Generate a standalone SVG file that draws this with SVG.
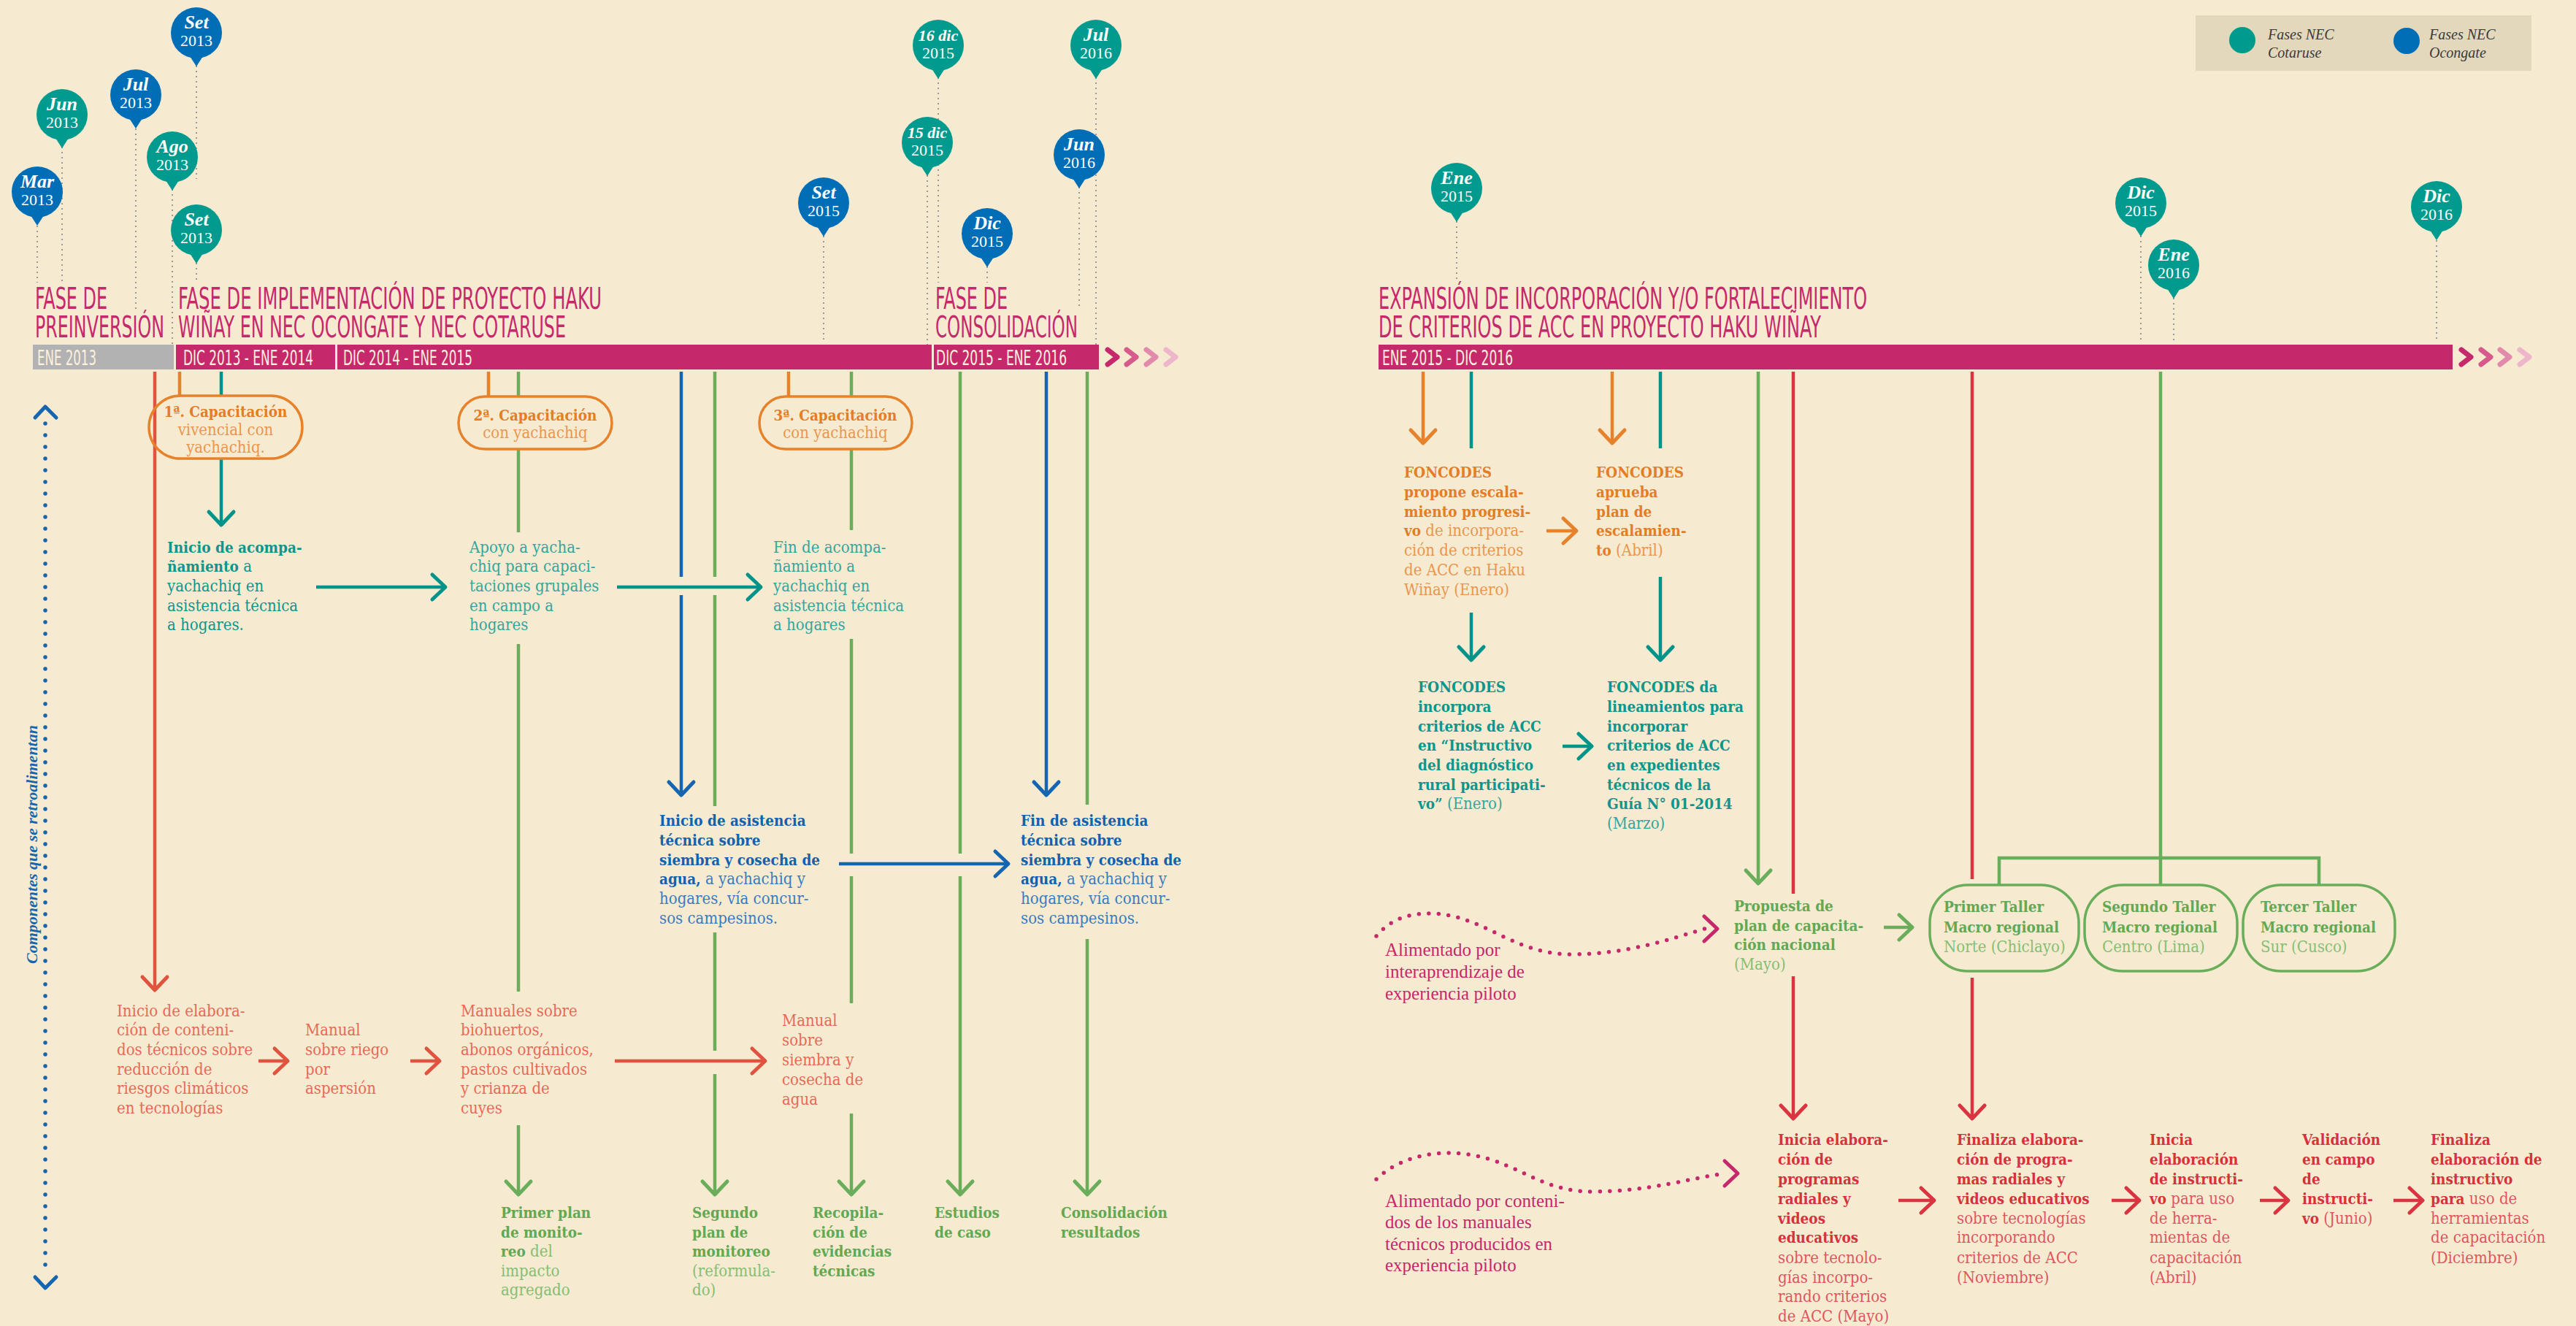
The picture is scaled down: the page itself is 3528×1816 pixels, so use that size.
<svg xmlns="http://www.w3.org/2000/svg" width="3528" height="1816" viewBox="0 0 3528 1816">
<style>
.bg{fill:#F6EBD1}
.ttl{font-family:'Liberation Sans Narrow','DejaVu Sans Condensed','Liberation Sans',sans-serif;font-size:40px;fill:#C5296C}
.bt{font-family:'Liberation Sans Narrow','DejaVu Sans Condensed','Liberation Sans',sans-serif;font-size:28px;fill:#FBF1DE}
.s{font-family:'DejaVu Serif Condensed','DejaVu Serif',serif;font-size:22px;font-stretch:condensed}
.k{font-weight:700;font-size:20.5px}
.mg{font-family:'Liberation Serif',serif;font-size:25px;fill:#C5296C}
.pm{font-family:'Liberation Serif',serif;font-weight:700;font-style:italic;font-size:26px;fill:#fff;text-anchor:middle}
.py{font-family:'Liberation Serif',serif;font-size:22px;fill:#fff;text-anchor:middle}
.lg{font-family:'Liberation Serif',serif;font-style:italic;font-size:20px;fill:#3a3a3a}
.pinT{fill:#009A8E}.pinB{fill:#006DB7}
.dot{stroke:#9A9A9A;stroke-width:2;stroke-dasharray:2 5;fill:none}
.ln{fill:none;stroke-width:4.5}
.ah{fill:none;stroke-width:5;stroke-linecap:round;stroke-linejoin:round}
.cT{fill:#0E958C}.cTl{fill:#35A69D}
.cO{fill:#E37D26}.cOl{fill:#EA964F}
.cB{fill:#1262AE}.cBl{fill:#3A7CC0}
.cR{fill:#E76A58}
.cG{fill:#63A852}.cGl{fill:#86BE74}
.cRR{fill:#D6313D}.cRRl{fill:#DE5660}
.sR{stroke:#E0533F}.sO{stroke:#E5822B}.sT{stroke:#00938A}.sG{stroke:#6AAD5A}.sB{stroke:#1565B0}.sRR{stroke:#D9343F}.sM{stroke:#C5296C}
.box{fill:none;stroke-width:3.5}
</style>
<rect class="bg" x="0" y="0" width="3528" height="1816"/>

<g id="pin-lines">
<path class="dot" d="M51,309V387M85,201V388M186,176V423M269,90V245M236,259V472M269,360V383M1128,323V466M1285,106V387M1270,240V472M1352,365V387M1478,256V423M1501,106V472M1995,303V387M2932,323V466M2977,408V466M3337,329V466"/>
</g>

<g id="pins">
<g id="pin-mar2013" transform="translate(51,263)"><circle class="pinB" r="35"/><path class="pinB" d="M-9,32L0,46L9,32Z"/><text class="pm" y="-6">Mar</text><text class="py" y="18">2013</text></g>
<g id="pin-jun2013" transform="translate(85,157)"><circle class="pinT" r="35"/><path class="pinT" d="M-9,32L0,46L9,32Z"/><text class="pm" y="-6">Jun</text><text class="py" y="18">2013</text></g>
<g id="pin-jul2013" transform="translate(186,130)"><circle class="pinB" r="35"/><path class="pinB" d="M-9,32L0,46L9,32Z"/><text class="pm" y="-6">Jul</text><text class="py" y="18">2013</text></g>
<g id="pin-set2013b" transform="translate(269,45)"><circle class="pinB" r="35"/><path class="pinB" d="M-9,32L0,46L9,32Z"/><text class="pm" y="-6">Set</text><text class="py" y="18">2013</text></g>
<g id="pin-ago2013" transform="translate(236,215)"><circle class="pinT" r="35"/><path class="pinT" d="M-9,32L0,46L9,32Z"/><text class="pm" y="-6">Ago</text><text class="py" y="18">2013</text></g>
<g id="pin-set2013t" transform="translate(269,315)"><circle class="pinT" r="35"/><path class="pinT" d="M-9,32L0,46L9,32Z"/><text class="pm" y="-6">Set</text><text class="py" y="18">2013</text></g>
<g id="pin-set2015" transform="translate(1128,278)"><circle class="pinB" r="35"/><path class="pinB" d="M-9,32L0,46L9,32Z"/><text class="pm" y="-6">Set</text><text class="py" y="18">2015</text></g>
<g id="pin-16dic2015" transform="translate(1285,62)"><circle class="pinT" r="35"/><path class="pinT" d="M-9,32L0,46L9,32Z"/><text class="pm" y="-6" style="font-size:22px">16 dic</text><text class="py" y="18">2015</text></g>
<g id="pin-15dic2015" transform="translate(1270,195)"><circle class="pinT" r="35"/><path class="pinT" d="M-9,32L0,46L9,32Z"/><text class="pm" y="-6" style="font-size:22px">15 dic</text><text class="py" y="18">2015</text></g>
<g id="pin-dic2015b" transform="translate(1352,320)"><circle class="pinB" r="35"/><path class="pinB" d="M-9,32L0,46L9,32Z"/><text class="pm" y="-6">Dic</text><text class="py" y="18">2015</text></g>
<g id="pin-jun2016" transform="translate(1478,212)"><circle class="pinB" r="35"/><path class="pinB" d="M-9,32L0,46L9,32Z"/><text class="pm" y="-6">Jun</text><text class="py" y="18">2016</text></g>
<g id="pin-jul2016" transform="translate(1501,62)"><circle class="pinT" r="35"/><path class="pinT" d="M-9,32L0,46L9,32Z"/><text class="pm" y="-6">Jul</text><text class="py" y="18">2016</text></g>
<g id="pin-ene2015" transform="translate(1995,258)"><circle class="pinT" r="35"/><path class="pinT" d="M-9,32L0,46L9,32Z"/><text class="pm" y="-6">Ene</text><text class="py" y="18">2015</text></g>
<g id="pin-dic2015t" transform="translate(2932,278)"><circle class="pinT" r="35"/><path class="pinT" d="M-9,32L0,46L9,32Z"/><text class="pm" y="-6">Dic</text><text class="py" y="18">2015</text></g>
<g id="pin-ene2016" transform="translate(2977,363)"><circle class="pinT" r="35"/><path class="pinT" d="M-9,32L0,46L9,32Z"/><text class="pm" y="-6">Ene</text><text class="py" y="18">2016</text></g>
<g id="pin-dic2016" transform="translate(3337,283)"><circle class="pinT" r="35"/><path class="pinT" d="M-9,32L0,46L9,32Z"/><text class="pm" y="-6">Dic</text><text class="py" y="18">2016</text></g>
</g>

<g id="legend">
<rect x="3007" y="21" width="460" height="76" fill="#E3D8BC"/>
<circle cx="3071" cy="55" r="18" fill="#009A8E"/>
<text class="lg" x="3106" y="54">Fases NEC</text><text class="lg" x="3106" y="79">Cotaruse</text>
<circle cx="3296" cy="56" r="18" fill="#006DB7"/>
<text class="lg" x="3327" y="54">Fases NEC</text><text class="lg" x="3327" y="79">Ocongate</text>
</g>

<g id="titles">
<text class="ttl" x="48" y="423" textLength="99" lengthAdjust="spacingAndGlyphs">FASE DE</text>
<text class="ttl" x="48" y="462" textLength="177" lengthAdjust="spacingAndGlyphs">PREINVERSIÓN</text>
<text class="ttl" x="244" y="423" textLength="580" lengthAdjust="spacingAndGlyphs">FASE DE IMPLEMENTACIÓN DE PROYECTO HAKU</text>
<text class="ttl" x="244" y="462" textLength="531" lengthAdjust="spacingAndGlyphs">WIÑAY EN NEC OCONGATE Y NEC COTARUSE</text>
<text class="ttl" x="1281" y="423" textLength="99" lengthAdjust="spacingAndGlyphs">FASE DE</text>
<text class="ttl" x="1281" y="462" textLength="195" lengthAdjust="spacingAndGlyphs">CONSOLIDACIÓN</text>
<text class="ttl" x="1888" y="423" textLength="669" lengthAdjust="spacingAndGlyphs">EXPANSIÓN DE INCORPORACIÓN Y/O FORTALECIMIENTO</text>
<text class="ttl" x="1888" y="462" textLength="606" lengthAdjust="spacingAndGlyphs">DE CRITERIOS DE ACC EN PROYECTO HAKU WIÑAY</text>
</g>

<g id="timeline-bar">
<rect x="45" y="472" width="193" height="34" fill="#B2B2B2"/>
<rect x="241" y="472" width="218" height="34" fill="#C5296C"/>
<rect x="462" y="472" width="814" height="34" fill="#C5296C"/>
<rect x="1279" y="472" width="226" height="34" fill="#C5296C"/>
<rect x="1888" y="472" width="1471" height="34" fill="#C5296C"/>
<text class="bt" x="51" y="500" textLength="81" lengthAdjust="spacingAndGlyphs">ENE 2013</text>
<text class="bt" x="251" y="500" textLength="178" lengthAdjust="spacingAndGlyphs">DIC 2013 - ENE 2014</text>
<text class="bt" x="470" y="500" textLength="177" lengthAdjust="spacingAndGlyphs">DIC 2014 - ENE 2015</text>
<text class="bt" x="1282" y="500" textLength="179" lengthAdjust="spacingAndGlyphs">DIC 2015 - ENE 2016</text>
<text class="bt" x="1893" y="500" textLength="179" lengthAdjust="spacingAndGlyphs">ENE 2015 - DIC 2016</text>
<g fill="none" stroke-width="7" stroke-linecap="round" stroke-linejoin="round">
<polyline points="1517,479 1530,489 1517,499" stroke="#C5296C"/>
<polyline points="1543,479 1556,489 1543,499" stroke="#D65A8C"/>
<polyline points="1570,479 1583,489 1570,499" stroke="#E28AAC"/>
<polyline points="1597,479 1610,489 1597,499" stroke="#EDB6CB"/>
<polyline points="3371,479 3384,489 3371,499" stroke="#C5296C"/>
<polyline points="3398,479 3411,489 3398,499" stroke="#D65A8C"/>
<polyline points="3424,479 3437,489 3424,499" stroke="#E28AAC"/>
<polyline points="3451,479 3464,489 3451,499" stroke="#EDB6CB"/>
</g>
</g>

<g id="side-note">
<path d="M62,580V1742" fill="none" stroke="#1565B0" stroke-width="5.5" stroke-linecap="round" stroke-dasharray="0 16"/>
<polyline class="ah" points="48,572 62,557 77,572" stroke="#1565B0"/>
<polyline class="ah" points="48,1749 62,1764 77,1749" stroke="#1565B0"/>
<text transform="translate(51,1320) rotate(-90)" font-family="Liberation Serif,serif" font-weight="700" font-style="italic" font-size="22" fill="#1565B0">Componentes que se retroalimentan</text>
</g>

<g id="connectors">
<path class="ln sR" d="M212,509V1354M354,1453H392M562,1453H600M842,1453H1046"/>
<g class="ah sR"><polyline points="195,1338 212,1356 229,1338"/><polyline points="376,1436 394,1453 376,1470"/><polyline points="584,1436 602,1453 584,1470"/><polyline points="1030,1436 1048,1453 1030,1470"/></g>
<path class="ln sO" d="M246,509V542M669,509V543M1080,509V543"/>
<path class="ln sT" d="M303,509V542M303,628V717M433,804H608M845,804H1040"/>
<g class="ah sT"><polyline points="286,701 303,719 320,701"/><polyline points="592,787 610,804 592,821"/><polyline points="1024,787 1042,804 1024,821"/></g>
<path class="ln sG" d="M710,509V543M710,615V729M710,882V1358M710,1541V1634M1166,509V543M1166,615V726M1166,875V1169M1166,1200V1374M1166,1525V1634M979,509V790M979,815V1104M979,1277V1439M979,1471V1634M1315,509V1169M1315,1200V1634M1489,509V1102M1489,1286V1634"/>
<g class="ah sG"><polyline points="693,1618 710,1636 727,1618"/><polyline points="1149,1618 1166,1636 1183,1618"/><polyline points="962,1618 979,1636 996,1618"/><polyline points="1298,1618 1315,1636 1332,1618"/><polyline points="1472,1618 1489,1636 1506,1618"/></g>
<path class="ln sB" d="M933,509V790M933,815V1087M1433,509V1087M1149,1183H1379"/>
<g class="ah sB"><polyline points="916,1071 933,1089 950,1071"/><polyline points="1416,1071 1433,1089 1450,1071"/><polyline points="1363,1166 1381,1183 1363,1200"/></g>

<path class="ln sO" d="M1949,509V605M2208,509V605M2118,727H2157"/>
<g class="ah sO"><polyline points="1932,589 1949,607 1966,589"/><polyline points="2191,589 2208,607 2225,589"/><polyline points="2141,710 2159,727 2141,744"/></g>
<path class="ln sT" d="M2015,509V614M2015,839V902M2274,509V614M2274,790V902M2140,1022H2178"/>
<g class="ah sT"><polyline points="1998,886 2015,904 2032,886"/><polyline points="2257,886 2274,904 2291,886"/><polyline points="2162,1005 2180,1022 2162,1039"/></g>
<path class="ln sG" d="M2408,509V1208M2580,1270H2617M2959,509V1212M2738,1212V1175H3176V1212"/>
<g class="ah sG"><polyline points="2391,1192 2408,1210 2425,1192"/><polyline points="2601,1253 2619,1270 2601,1287"/></g>
<path class="ln sRR" d="M2456,509V1224M2456,1337V1530M2701,509V1204M2701,1339V1530M2600,1644H2647M2892,1644H2928M3095,1644H3132M3278,1644H3316"/>
<g class="ah sRR"><polyline points="2439,1514 2456,1532 2473,1514"/><polyline points="2684,1514 2701,1532 2718,1514"/><polyline points="2631,1627 2649,1644 2631,1661"/><polyline points="2912,1627 2930,1644 2912,1661"/><polyline points="3116,1627 3134,1644 3116,1661"/><polyline points="3300,1627 3318,1644 3300,1661"/></g>

<path d="M1885,1282C1905,1258 1930,1251 1958,1251C2030,1251 2070,1307 2152,1307C2230,1307 2290,1285 2338,1271" fill="none" stroke="#C5296C" stroke-width="5.5" stroke-linecap="round" stroke-dasharray="0 13.5"/>
<polyline class="ah sM" points="2334,1255 2352,1272 2334,1289"/>
<path d="M1885,1615C1910,1590 1950,1579 1983,1579C2070,1579 2100,1632 2180,1632C2260,1632 2320,1612 2364,1607" fill="none" stroke="#C5296C" stroke-width="5.5" stroke-linecap="round" stroke-dasharray="0 13.5"/>
<polyline class="ah sM" points="2362,1590 2380,1607 2362,1624"/>
</g>

<g id="cap1">
<rect class="box sO" x="204" y="542" width="210" height="86" rx="43"/>
<text class="s cO" text-anchor="middle"><tspan class="k" x="309" y="571">1ª. Capacitación</tspan><tspan class="cOl" x="309" y="596">vivencial con</tspan><tspan class="cOl" x="309" y="620">yachachiq.</tspan></text>
</g>
<g id="cap2">
<rect class="box sO" x="628" y="543" width="210" height="72" rx="36"/>
<text class="s cO" text-anchor="middle"><tspan class="k" x="733" y="576">2ª. Capacitación</tspan><tspan class="cOl" x="733" y="600">con yachachiq</tspan></text>
</g>
<g id="cap3">
<rect class="box sO" x="1040" y="543" width="209" height="72" rx="36"/>
<text class="s cO" text-anchor="middle"><tspan class="k" x="1144" y="576">3ª. Capacitación</tspan><tspan class="cOl" x="1144" y="600">con yachachiq</tspan></text>
</g>

<g id="inicio-acomp">
<text class="s cT"><tspan class="k" x="229" y="757">Inicio de acompa-</tspan><tspan x="229" y="783"><tspan class="k">ñamiento</tspan> a</tspan><tspan x="229" y="810">yachachiq en</tspan><tspan x="229" y="837">asistencia técnica</tspan><tspan x="229" y="863">a hogares.</tspan></text>
</g>
<g id="apoyo">
<text class="s cTl"><tspan x="643" y="757">Apoyo a yacha-</tspan><tspan x="643" y="783">chiq para capaci-</tspan><tspan x="643" y="810">taciones grupales</tspan><tspan x="643" y="837">en campo a</tspan><tspan x="643" y="863">hogares</tspan></text>
</g>
<g id="fin-acomp">
<text class="s cTl"><tspan x="1059" y="757">Fin de acompa-</tspan><tspan x="1059" y="783">ñamiento a</tspan><tspan x="1059" y="810">yachachiq en</tspan><tspan x="1059" y="837">asistencia técnica</tspan><tspan x="1059" y="863">a hogares</tspan></text>
</g>
<g id="inicio-asist">
<text class="s cB"><tspan class="k" x="903" y="1131">Inicio de asistencia</tspan><tspan class="k" x="903" y="1158">técnica sobre</tspan><tspan class="k" x="903" y="1185">siembra y cosecha de</tspan><tspan x="903" y="1211"><tspan class="k">agua,</tspan><tspan class="cBl"> a yachachiq y</tspan></tspan><tspan class="cBl" x="903" y="1238">hogares, vía concur-</tspan><tspan class="cBl" x="903" y="1265">sos campesinos.</tspan></text>
</g>
<g id="fin-asist">
<text class="s cB"><tspan class="k" x="1398" y="1131">Fin  de asistencia</tspan><tspan class="k" x="1398" y="1158">técnica sobre</tspan><tspan class="k" x="1398" y="1185">siembra y cosecha de</tspan><tspan x="1398" y="1211"><tspan class="k">agua,</tspan><tspan class="cBl"> a yachachiq y</tspan></tspan><tspan class="cBl" x="1398" y="1238">hogares, vía concur-</tspan><tspan class="cBl" x="1398" y="1265">sos campesinos.</tspan></text>
</g>
<g id="inicio-elab">
<text class="s cR"><tspan x="160" y="1392">Inicio de elabora-</tspan><tspan x="160" y="1418">ción de conteni-</tspan><tspan x="160" y="1445">dos técnicos sobre</tspan><tspan x="160" y="1472">reducción de</tspan><tspan x="160" y="1498">riesgos climáticos</tspan><tspan x="160" y="1525">en tecnologías</tspan></text>
</g>
<g id="manual-riego">
<text class="s cR"><tspan x="418" y="1418">Manual</tspan><tspan x="418" y="1445">sobre riego</tspan><tspan x="418" y="1472">por</tspan><tspan x="418" y="1498">aspersión</tspan></text>
</g>
<g id="manuales">
<text class="s cR"><tspan x="631" y="1392">Manuales sobre</tspan><tspan x="631" y="1418">biohuertos,</tspan><tspan x="631" y="1445">abonos orgánicos,</tspan><tspan x="631" y="1472">pastos cultivados</tspan><tspan x="631" y="1498">y crianza de</tspan><tspan x="631" y="1525">cuyes</tspan></text>
</g>
<g id="manual-siembra">
<text class="s cR"><tspan x="1071" y="1405">Manual</tspan><tspan x="1071" y="1432">sobre</tspan><tspan x="1071" y="1459">siembra y</tspan><tspan x="1071" y="1486">cosecha de</tspan><tspan x="1071" y="1513">agua</tspan></text>
</g>
<g id="primer-plan">
<text class="s cG"><tspan class="k" x="686" y="1668">Primer plan</tspan><tspan class="k" x="686" y="1695">de monito-</tspan><tspan x="686" y="1721"><tspan class="k">reo</tspan><tspan class="cGl"> del</tspan></tspan><tspan class="cGl" x="686" y="1748">impacto</tspan><tspan class="cGl" x="686" y="1774">agregado</tspan></text>
</g>
<g id="segundo-plan">
<text class="s cG"><tspan class="k" x="948" y="1668">Segundo</tspan><tspan class="k" x="948" y="1695">plan de</tspan><tspan class="k" x="948" y="1721">monitoreo</tspan><tspan class="cGl" x="948" y="1748">(reformula-</tspan><tspan class="cGl" x="948" y="1774">do)</tspan></text>
</g>
<g id="recopilacion">
<text class="s cG"><tspan class="k" x="1113" y="1668">Recopila-</tspan><tspan class="k" x="1113" y="1695">ción de</tspan><tspan class="k" x="1113" y="1721">evidencias</tspan><tspan class="k" x="1113" y="1748">técnicas</tspan></text>
</g>
<g id="estudios">
<text class="s cG"><tspan class="k" x="1280" y="1668">Estudios</tspan><tspan class="k" x="1280" y="1695">de caso</tspan></text>
</g>
<g id="consolidacion">
<text class="s cG"><tspan class="k" x="1453" y="1668">Consolidación</tspan><tspan class="k" x="1453" y="1695">resultados</tspan></text>
</g>

<g id="foncodes-propone">
<text class="s cO"><tspan class="k" x="1923" y="654">FONCODES</tspan><tspan class="k" x="1923" y="681">propone  escala-</tspan><tspan class="k" x="1923" y="708">miento progresi-</tspan><tspan x="1923" y="734"><tspan class="k">vo</tspan><tspan class="cOl"> de incorpora-</tspan></tspan><tspan class="cOl" x="1923" y="761">ción de criterios</tspan><tspan class="cOl" x="1923" y="788">de ACC en Haku</tspan><tspan class="cOl" x="1923" y="815">Wiñay (Enero)</tspan></text>
</g>
<g id="foncodes-aprueba">
<text class="s cO"><tspan class="k" x="2186" y="654">FONCODES</tspan><tspan class="k" x="2186" y="681">aprueba</tspan><tspan class="k" x="2186" y="708">plan de</tspan><tspan class="k" x="2186" y="734">escalamien-</tspan><tspan x="2186" y="761"><tspan class="k">to</tspan><tspan class="cOl"> (Abril)</tspan></tspan></text>
</g>
<g id="foncodes-incorpora">
<text class="s cT"><tspan class="k" x="1942" y="948">FONCODES</tspan><tspan class="k" x="1942" y="975">incorpora</tspan><tspan class="k" x="1942" y="1002">criterios de ACC</tspan><tspan class="k" x="1942" y="1028">en “Instructivo</tspan><tspan class="k" x="1942" y="1055">del diagnóstico</tspan><tspan class="k" x="1942" y="1082">rural participati-</tspan><tspan x="1942" y="1108"><tspan class="k">vo”</tspan><tspan class="cTl"> (Enero)</tspan></tspan></text>
</g>
<g id="foncodes-da">
<text class="s cT"><tspan class="k" x="2201" y="948">FONCODES da</tspan><tspan class="k" x="2201" y="975">lineamientos para</tspan><tspan class="k" x="2201" y="1002">incorporar</tspan><tspan class="k" x="2201" y="1028">criterios de ACC</tspan><tspan class="k" x="2201" y="1055">en expedientes</tspan><tspan class="k" x="2201" y="1082">técnicos de la</tspan><tspan class="k" x="2201" y="1108">Guía N° 01-2014</tspan><tspan class="cTl" x="2201" y="1135">(Marzo)</tspan></text>
</g>
<g id="propuesta">
<text class="s cG"><tspan class="k" x="2375" y="1248">Propuesta de</tspan><tspan class="k" x="2375" y="1275">plan de capacita-</tspan><tspan class="k" x="2375" y="1301">ción nacional</tspan><tspan class="cGl" x="2375" y="1328">(Mayo)</tspan></text>
</g>
<g id="taller1">
<rect class="box sG" x="2643" y="1212" width="204" height="118" rx="52"/>
<text class="s cG"><tspan class="k" x="2662" y="1249">Primer Taller</tspan><tspan class="k" x="2662" y="1277">Macro regional</tspan><tspan class="cGl" x="2662" y="1304">Norte (Chiclayo)</tspan></text>
</g>
<g id="taller2">
<rect class="box sG" x="2855" y="1212" width="209" height="118" rx="52"/>
<text class="s cG"><tspan class="k" x="2879" y="1249">Segundo Taller</tspan><tspan class="k" x="2879" y="1277">Macro regional</tspan><tspan class="cGl" x="2879" y="1304">Centro (Lima)</tspan></text>
</g>
<g id="taller3">
<rect class="box sG" x="3072" y="1212" width="208" height="118" rx="52"/>
<text class="s cG"><tspan class="k" x="3096" y="1249">Tercer Taller</tspan><tspan class="k" x="3096" y="1277">Macro regional</tspan><tspan class="cGl" x="3096" y="1304">Sur (Cusco)</tspan></text>
</g>
<g id="alimentado1">
<text class="mg"><tspan x="1897" y="1309">Alimentado por</tspan><tspan x="1897" y="1339">interaprendizaje de</tspan><tspan x="1897" y="1369">experiencia piloto</tspan></text>
</g>
<g id="alimentado2">
<text class="mg"><tspan x="1897" y="1653">Alimentado por conteni-</tspan><tspan x="1897" y="1682">dos de los manuales</tspan><tspan x="1897" y="1712">técnicos  producidos en</tspan><tspan x="1897" y="1741">experiencia piloto</tspan></text>
</g>
<g id="inicia-programas">
<text class="s cRR"><tspan class="k" x="2435" y="1568">Inicia elabora-</tspan><tspan class="k" x="2435" y="1595">ción de</tspan><tspan class="k" x="2435" y="1622">programas</tspan><tspan class="k" x="2435" y="1649">radiales y</tspan><tspan class="k" x="2435" y="1676">videos</tspan><tspan class="k" x="2435" y="1702">educativos</tspan><tspan class="cRRl" x="2435" y="1730">sobre tecnolo-</tspan><tspan class="cRRl" x="2435" y="1757">gías incorpo-</tspan><tspan class="cRRl" x="2435" y="1783">rando criterios</tspan><tspan class="cRRl" x="2435" y="1810">de ACC (Mayo)</tspan></text>
</g>
<g id="finaliza-programas">
<text class="s cRR"><tspan class="k" x="2680" y="1568">Finaliza elabora-</tspan><tspan class="k" x="2680" y="1595">ción de progra-</tspan><tspan class="k" x="2680" y="1622">mas radiales y</tspan><tspan class="k" x="2680" y="1649">videos educativos</tspan><tspan class="cRRl" x="2680" y="1676">sobre tecnologías</tspan><tspan class="cRRl" x="2680" y="1702">incorporando</tspan><tspan class="cRRl" x="2680" y="1730">criterios de ACC</tspan><tspan class="cRRl" x="2680" y="1757">(Noviembre)</tspan></text>
</g>
<g id="inicia-instructivo">
<text class="s cRR"><tspan class="k" x="2944" y="1568">Inicia</tspan><tspan class="k" x="2944" y="1595">elaboración</tspan><tspan class="k" x="2944" y="1622">de instructi-</tspan><tspan x="2944" y="1649"><tspan class="k">vo</tspan><tspan class="cRRl"> para uso</tspan></tspan><tspan class="cRRl" x="2944" y="1676">de herra-</tspan><tspan class="cRRl" x="2944" y="1702">mientas de</tspan><tspan class="cRRl" x="2944" y="1730">capacitación</tspan><tspan class="cRRl" x="2944" y="1757">(Abril)</tspan></text>
</g>
<g id="validacion">
<text class="s cRR"><tspan class="k" x="3153" y="1568">Validación</tspan><tspan class="k" x="3153" y="1595">en campo</tspan><tspan class="k" x="3153" y="1622">de</tspan><tspan class="k" x="3153" y="1649">instructi-</tspan><tspan x="3153" y="1676"><tspan class="k">vo</tspan><tspan class="cRRl"> (Junio)</tspan></tspan></text>
</g>
<g id="finaliza-instructivo">
<text class="s cRR"><tspan class="k" x="3329" y="1568">Finaliza</tspan><tspan class="k" x="3329" y="1595">elaboración de</tspan><tspan class="k" x="3329" y="1622">instructivo</tspan><tspan x="3329" y="1649"><tspan class="k">para</tspan><tspan class="cRRl"> uso de</tspan></tspan><tspan class="cRRl" x="3329" y="1676">herramientas</tspan><tspan class="cRRl" x="3329" y="1702">de capacitación</tspan><tspan class="cRRl" x="3329" y="1730">(Diciembre)</tspan></text>
</g>
</svg>
